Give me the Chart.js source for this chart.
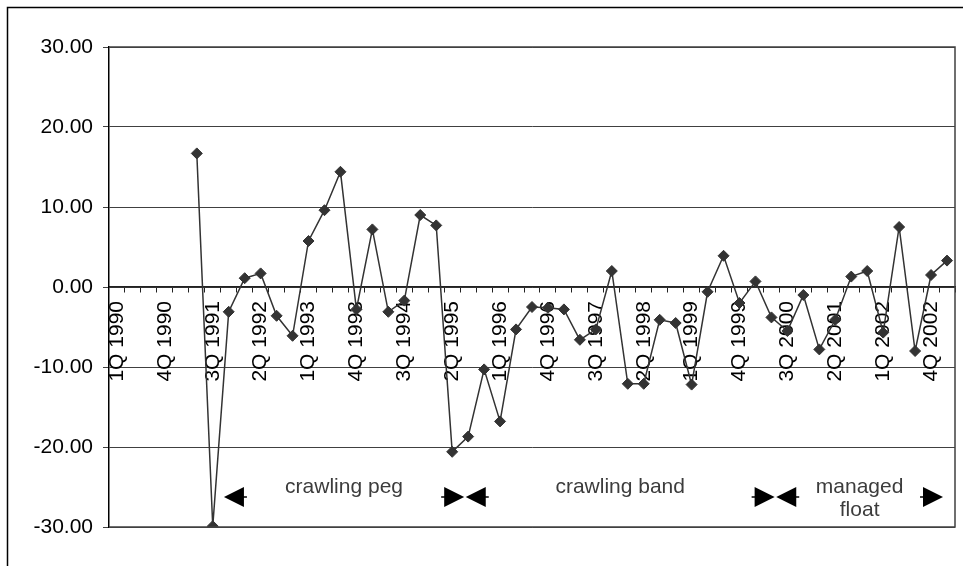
<!DOCTYPE html>
<html>
<head>
<meta charset="utf-8">
<script src="https://cdn.jsdelivr.net/npm/chart.js@4/dist/chart.umd.min.js"></script>
<style>
  body { margin: 0; background: #fff; }
  #wrap { position: relative; width: 963px; height: 566px; overflow: hidden; }
</style>
</head>
<body>
<div id="wrap"><canvas id="chart" width="963" height="566"></canvas></div>
<script>
// quarterly categories, 1Q 1990 .. 1Q 2003
const quarters = [
  '1Q 1990','2Q 1990','3Q 1990','4Q 1990',
  '1Q 1991','2Q 1991','3Q 1991','4Q 1991',
  '1Q 1992','2Q 1992','3Q 1992','4Q 1992',
  '1Q 1993','2Q 1993','3Q 1993','4Q 1993',
  '1Q 1994','2Q 1994','3Q 1994','4Q 1994',
  '1Q 1995','2Q 1995','3Q 1995','4Q 1995',
  '1Q 1996','2Q 1996','3Q 1996','4Q 1996',
  '1Q 1997','2Q 1997','3Q 1997','4Q 1997',
  '1Q 1998','2Q 1998','3Q 1998','4Q 1998',
  '1Q 1999','2Q 1999','3Q 1999','4Q 1999',
  '1Q 2000','2Q 2000','3Q 2000','4Q 2000',
  '1Q 2001','2Q 2001','3Q 2001','4Q 2001',
  '1Q 2002','2Q 2002','3Q 2002','4Q 2002',
  '1Q 2003'
];

const values = [
  null, null, null, null, null, 16.7, -29.9, -3.1,
  1.1, 1.7, -3.6, -6.1, 5.75, 9.6, 14.4, -2.8,
  7.2, -3.1, -1.7, 9.0, 7.7, -20.6, -18.7, -10.3,
  -16.8, -5.3, -2.5, -2.6, -2.8, -6.6, -5.3, 2.0,
  -12.1, -12.1, -4.1, -4.5, -12.2, -0.6, 3.9, -2.0,
  0.7, -3.8, -5.5, -1.0, -7.8, -4.1, 1.3, 2.0,
  -5.7, 7.5, -8.0, 1.5, 3.3
];

const yTicks = [-30, -20, -10, 0, 10, 20, 30];

// exchange rate regimes, start/end as category positions
const regimeNames = [['crawling peg'], ['crawling band'], ['managed', 'float']];
const regimeStart = [6.7, 21.85, 41.3];
const regimeEnd = [21.75, 41.2, 51.75];
const regimeArrowY = -26.25;
const regimeTextY = -25.0;

const FONT = '"Liberation Sans", Arial, sans-serif';

const regimePlugin = {
  id: 'regimes',
  beforeDraw(chart) {
    const ctx = chart.ctx;
    ctx.save();
    ctx.fillStyle = '#fff';
    ctx.fillRect(0, 0, chart.width, chart.height);
    ctx.strokeStyle = '#000';
    ctx.lineWidth = 1.5;
    ctx.strokeRect(7.5, 7.5, chart.width + 20, chart.height + 20);
    ctx.restore();
  },
  afterDraw(chart) {
    const ctx = chart.ctx;
    const xs = chart.scales.x, ys = chart.scales.y;
    const a = chart.chartArea;
    ctx.save();
    // plot area frame
    ctx.strokeStyle = '#404040';
    ctx.lineWidth = 1.5;
    ctx.beginPath();
    ctx.moveTo(a.left, a.top);
    ctx.lineTo(a.right, a.top);
    ctx.lineTo(a.right, a.bottom);
    ctx.lineTo(a.left, a.bottom);
    ctx.stroke();

    const ay = ys.getPixelForValue(regimeArrowY);
    const ty = ys.getPixelForValue(regimeTextY);
    ctx.fillStyle = '#000';
    ctx.strokeStyle = '#000';
    ctx.lineWidth = 1.5;
    regimeNames.forEach((lines, i) => {
      const x0 = xs.getPixelForValue(regimeStart[i]);
      const x1 = xs.getPixelForValue(regimeEnd[i]);
      // left arrow head
      ctx.beginPath();
      ctx.moveTo(x0, ay);
      ctx.lineTo(x0 + 20, ay - 10);
      ctx.lineTo(x0 + 20, ay + 10);
      ctx.closePath();
      ctx.fill();
      ctx.beginPath();
      ctx.moveTo(x0 + 19, ay);
      ctx.lineTo(x0 + 23, ay);
      ctx.stroke();
      // right arrow head
      ctx.beginPath();
      ctx.moveTo(x1, ay);
      ctx.lineTo(x1 - 20, ay - 10);
      ctx.lineTo(x1 - 20, ay + 10);
      ctx.closePath();
      ctx.fill();
      ctx.beginPath();
      ctx.moveTo(x1 - 19, ay);
      ctx.lineTo(x1 - 23, ay);
      ctx.stroke();
      // label
      ctx.save();
      ctx.fillStyle = '#3c3c3c';
      ctx.font = '21px ' + FONT;
      ctx.textAlign = 'center';
      ctx.textBaseline = 'middle';
      lines.forEach((t, k) => ctx.fillText(t, (x0 + x1) / 2, ty + k * 23));
      ctx.restore();
    });
    ctx.restore();
  }
};

new Chart(document.getElementById('chart'), {
  type: 'line',
  data: {
    labels: quarters,
    datasets: [{
      data: values,
      borderColor: '#333',
      borderWidth: 1.5,
      pointStyle: 'rectRot',
      pointRadius: 5.5,
      pointBackgroundColor: '#333',
      pointBorderColor: '#333',
      pointBorderWidth: 1,
      tension: 0,
      spanGaps: false
    }]
  },
  options: {
    responsive: false,
    animation: false,
    devicePixelRatio: 1,
    layout: { padding: { top: 47, right: 8, bottom: 39, left: 0 } },
    plugins: { legend: { display: false }, tooltip: { enabled: false } },
    scales: {
      x: {
        type: 'category',
        position: { y: 0 },
        offset: true,
        afterFit(s) { s.height = 0; s.paddingLeft = 0; s.paddingRight = 0; },
        grid: {
          offset: true,
          drawOnChartArea: false,
          drawTicks: true,
          tickLength: 5,
          color: '#222',
          lineWidth: 1
        },
        border: { display: true, color: '#222', width: 1.5 },
        ticks: {
          autoSkip: false,
          minRotation: 90,
          maxRotation: 90,
          padding: 9,
          color: '#000',
          font: { family: FONT, size: 21 },
          callback: function (v, i) {
            return i % 3 === 0 ? this.getLabelForValue(v) : '';
          }
        }
      },
      y: {
        min: -30,
        max: 30,
        afterFit(s) { s.width = 109; s.paddingTop = 0; s.paddingBottom = 0; },
        afterBuildTicks(s) { s.ticks = yTicks.map(v => ({ value: v })); },
        grid: {
          color: '#404040',
          lineWidth: 1,
          tickLength: 6
        },
        border: { display: true, color: '#000', width: 1.5 },
        ticks: {
          padding: 10,
          color: '#000',
          font: { family: FONT, size: 21 },
          callback: v => v.toFixed(2)
        }
      }
    }
  },
  plugins: [regimePlugin]
});
</script>
</body>
</html>
